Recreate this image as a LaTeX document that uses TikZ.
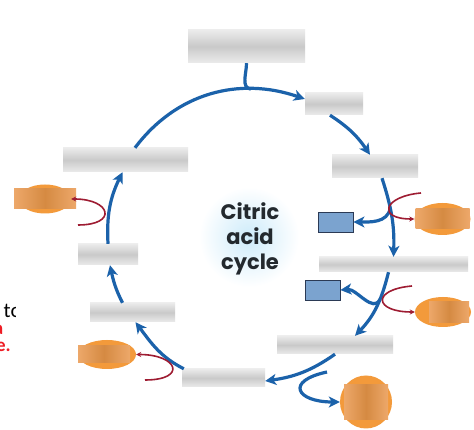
\documentclass[tikz,border=0pt]{standalone}
\usepackage{fontspec}
\newfontfamily\cycfont{Poppins}
\newfontfamily\notefont{Carlito}
\usetikzlibrary{positioning,shapes.geometric,arrows.meta,calc}
\definecolor{cycblue}{HTML}{1B62AA}
\definecolor{redarc}{HTML}{9E1C32}
\definecolor{orng}{HTML}{F39A3B}
\definecolor{orngdark}{HTML}{D58A42}
\definecolor{orngpale}{HTML}{EDA86A}
\definecolor{co2fill}{HTML}{7BA3CF}
\definecolor{co2line}{HTML}{2B3A55}
\definecolor{glow}{HTML}{CDEBFA}
\definecolor{cyctext}{HTML}{23292E}
\definecolor{notered}{HTML}{EE1C24}

\begin{document}
\begin{tikzpicture}[
      x=1pt, y=1pt,
      lbl/.style={shading=axis, top color=black!8, bottom color=black!8, middle color=black!21, inner sep=0pt},
      gas/.style={draw=co2line, fill=co2fill, line width=0.9pt, minimum width=35pt, minimum height=20pt, inner sep=0pt},
      carrier/.style={ellipse, fill=orng, inner sep=0pt},
      carriermask/.style={left color=orngpale, right color=orngpale, middle color=orngdark, inner sep=0pt},
      flow/.style={cycblue, line width=3.2pt, -{Stealth[length=11pt,width=11pt,inset=3pt]}},
      redox/.style={redarc, line width=1.6pt, -{Stealth[length=5pt,width=5pt]}},
      >=Stealth
    ]
    \fill[white] (0,0) rectangle (474,430);
    \useasboundingbox (0,0) rectangle (474,430);

    % Glow and title in the middle of the cycle
    \shade[inner color=glow, outer color=white] (249,193) circle (50);
    \node[align=center, text=cyctext, font=\cycfont\bfseries\fontsize{21}{25}\selectfont] (title) at (250,191) {Citric\\acid\\cycle};

    % Label boxes, clockwise from the top
    \node[lbl, minimum width=117pt, minimum height=33pt] (acetyl) at (246.5,383.5) {};
    \node[lbl, minimum width=58pt, minimum height=22pt] (citrate) at (334,326) {};
    \node[lbl, minimum width=86pt, minimum height=23pt] (isocit) at (375,263.5) {};
    \node[lbl, minimum width=149pt, minimum height=15pt] (akg) at (393.5,165.5) {};
    \node[lbl, minimum width=116pt, minimum height=18pt] (succoa) at (335,85) {};
    \node[lbl, minimum width=83pt, minimum height=18pt] (succ) at (223.5,52) {};
    \node[lbl, minimum width=85pt, minimum height=19pt] (fum) at (132.5,117.5) {};
    \node[lbl, minimum width=60pt, minimum height=21pt] (mal) at (108,175.5) {};
    \node[lbl, minimum width=125pt, minimum height=24pt] (oaa) at (125.5,270) {};

    % Released gas
    \node[gas] (co2a) at (335.5,208) {};
    \node[gas] (co2b) at (322.5,140) {};

    % Carriers
    \node[carrier, minimum width=56pt, minimum height=32pt] (nadA) at (442.5,211) {};
    \node[carriermask, minimum width=54pt, minimum height=20pt] at (nadA) {};
    \node[carrier, minimum width=56pt, minimum height=30pt] (nadB) at (443,118) {};
    \node[carriermask, minimum width=40pt, minimum height=21pt] at ([xshift=6pt]nadB.center) {};
    \node[carrier, minimum width=58pt, minimum height=29pt] (nadC) at (107,75.5) {};
    \node[carriermask, minimum width=52pt, minimum height=17pt] at ([xshift=-3pt]nadC.center) {};
    \node[carrier, minimum width=52pt, minimum height=29pt] (fadh) at (45,231) {};
    \node[carriermask, minimum width=62pt, minimum height=20pt] at (fadh) {};
    \node[carrier, minimum width=52pt, minimum height=53pt] (gtp) at (366,28) {};
    \node[carriermask, minimum width=44pt, minimum height=35pt] at (gtp) {};

    % Free ends of the side arrows
    \coordinate (inA) at (421,237);
    \coordinate (inB) at (412,144);
    \coordinate (inC) at (145,50);
    \coordinate (inD) at (78,205);
    \coordinate (inG) at (327,58);

    % Arrows round the cycle
    \draw[flow] ([xshift=9.5pt]oaa.north) to[out=53,in=161] coordinate[pos=0.72] (join) ([yshift=5pt]citrate.west);
    \draw[cycblue, line width=3.2pt] (acetyl.south) to[out=-90,in=172] (join);
    \draw[flow] ([xshift=-4pt]citrate.south) to[out=-33,in=124] ([xshift=-5pt]isocit.north);
    \draw[flow] ([xshift=7pt]isocit.south) to[out=-72,in=88] coordinate[pos=0.38] (brA) (akg.north);
    \draw[flow] (brA) to[out=-100,in=0] (co2a.east);
    \draw[flow] ([xshift=-5pt]akg.south) to[out=-104,in=46] coordinate[pos=0.38] (brB) ([xshift=20pt]succoa.north);
    \draw[flow] (brB) to[out=-115,in=5] (co2b.east);
    \draw[flow] (succoa.south) to[out=-145,in=8] ([yshift=-3pt]succ.east);
    \draw[flow] (inG) to[out=192,in=180,looseness=3.4] (gtp.west);
    \draw[flow] ([xshift=2pt]succ.north west) to[out=153,in=-53] ([xshift=3pt]fum.south);
    \draw[flow] ([xshift=-10pt]fum.north) to[out=117,in=-78] ([xshift=2pt]mal.south);
    \draw[flow] (mal.north) to[out=93,in=-116] ([xshift=-3pt]oaa.south);

    % Carrier arrows
    \draw[redox] (inA) to[out=185,in=180,looseness=3.6] (nadA.west);
    \draw[redox] (inB) to[out=185,in=180,looseness=4] (nadB.west);
    \draw[redox] (inC) to[out=0,in=0,looseness=4] (nadC.east);
    \draw[redox] (inD) to[out=0,in=0,looseness=3.8] (fadh.east);

    % Cut text at the left edge
    \begin{scope}
      \clip (0,100) rectangle (15,135);
      \node[anchor=base west, inner sep=0pt, font=\notefont\fontsize{21}{24}\selectfont] (cutA) at (3.5,112) {to};
    \end{scope}
    \node[anchor=base east, inner sep=0pt, text=notered, font=\notefont\bfseries\fontsize{19}{22}\selectfont] (cutB) at (3.5,95) {a};
    \node[anchor=base east, inner sep=0pt, text=notered, font=\notefont\bfseries\fontsize{19}{22}\selectfont] (cutC) at (11,78) {e.};

  \end{tikzpicture}
\end{document}
